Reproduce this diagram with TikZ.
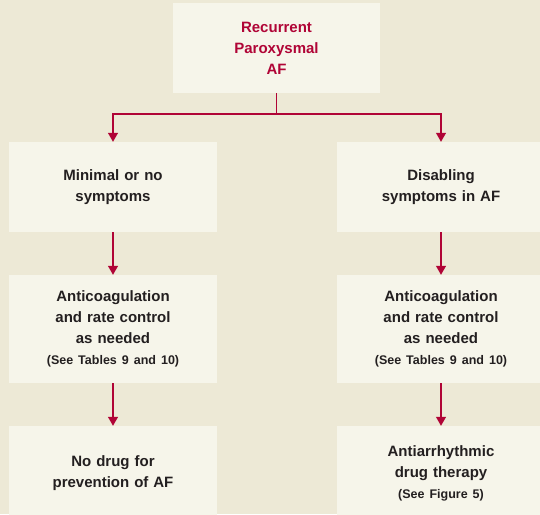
\documentclass[tikz,border=0pt]{standalone}
\usepackage{fontspec}
\setmainfont{Liberation Sans}
\usetikzlibrary{arrows.meta}

\definecolor{fond}{RGB}{237,233,214}
\definecolor{boite}{RGB}{246,245,234}
\definecolor{rouge}{RGB}{176,4,54}
\definecolor{texte}{RGB}{35,31,32}

\newcommand{\petit}[1]{{\fontsize{12.5}{20}\selectfont #1}}

\begin{document}
\begin{tikzpicture}[x=1pt, y=1pt,
  box/.style={fill=boite, inner sep=0pt, text width=196pt, align=center,
    text=texte, font=\bfseries\fontsize{15}{21}\selectfont},
  fleche/.style={draw=rouge, line width=1.2pt, -{Triangle[width=10pt,length=9pt]}},
  trait/.style={draw=rouge, line width=1.2pt}]
  \useasboundingbox (0,0) rectangle (540,514);
  \fill[fond] (0,0) rectangle (540,514);
  \clip (0,0) rectangle (540,514);

  \node[box, minimum width=207pt, minimum height=90pt, text=rouge] (0) at (276.5,466) {Recurrent\\Paroxysmal\\AF};
  \node[box, minimum width=208pt, minimum height=90pt] (1) at (113,327) {Minimal or no\\symptoms};
  \node[box, minimum width=208pt, minimum height=90pt] (2) at (441,327) {Disabling\\symptoms in AF};
  \node[box, minimum width=208pt, minimum height=108pt] (3) at (113,185) {Anticoagulation\\and rate control\\as needed\\\petit{(See Tables 9 and 10)}};
  \node[box, minimum width=208pt, minimum height=108pt] (4) at (441,185) {Anticoagulation\\and rate control\\as needed\\\petit{(See Tables 9 and 10)}};
  \node[box, minimum width=208pt, minimum height=94pt] (5) at (113,41) {No drug for\\prevention of AF};
  \node[box, minimum width=208pt, minimum height=94pt] (6) at (441,41) {Antiarrhythmic\\drug therapy\\\petit{(See Figure 5)}};

  \coordinate (s) at (276.5,400); % point de séparation

  \draw[trait] (0) -- (s);
  \draw[fleche] (s) -| (1);
  \draw[fleche] (s) -| (2);
  \draw[fleche] (1) -- (3);
  \draw[fleche] (2) -- (4);
  \draw[fleche] (3) -- (5);
  \draw[fleche] (4) -- (6);
\end{tikzpicture}
\end{document}
